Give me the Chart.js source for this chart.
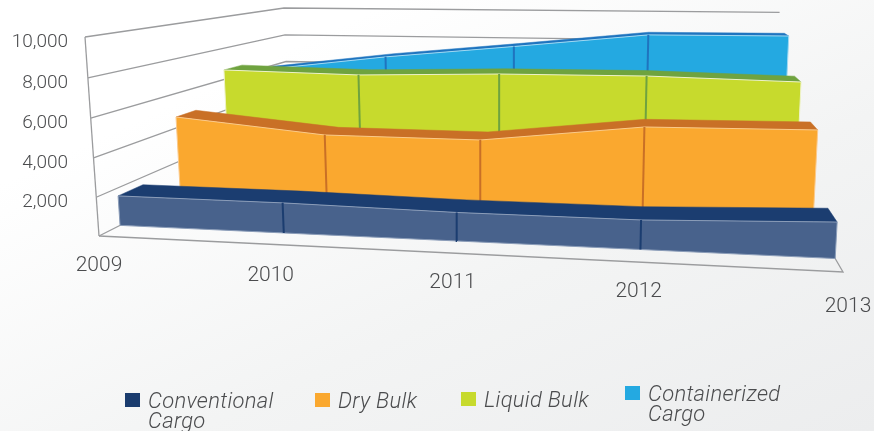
<!DOCTYPE html>
<html><head><meta charset="utf-8">
<script src="https://cdn.jsdelivr.net/npm/chart.js@4"></script>
<style>
html,body{margin:0;padding:0;width:874px;height:431px;overflow:hidden;background:linear-gradient(155deg,#ffffff 0%,#ffffff 22%,#f3f4f4 62%,#ecedee 100%);}
canvas{display:block}
</style></head><body>
<canvas id="c" width="874" height="431"></canvas>
<script>
const years = ['2009','2010','2011','2012','2013'];
const yTicks = [2000,4000,6000,8000,10000];
const yMax = 10000;
const conventionalCargo = [1580,1570,1450,1460,1750];
const dryBulk = [4640,3840,3820,4800,4890];
const liquidBulk = [6610,6460,6690,6740,6560];
const containerizedCargo = [5900,6950,7800,8700,8740];

const seriesNames = [['Conventional','Cargo'],['Dry Bulk'],['Liquid Bulk'],['Containerized','Cargo']];
const faceColors = ['#48628c','#faa82f','#c7da2d','#24a9e1'];
const topColors = ['#1b3d70','#c97026','#6fa33f','#1f74bf'];
const edgeColors = ['#8a9cb8','#fbc98a','#eef2c8','#9fd8f2'];
const legendColors = ['#1a3c6e','#faa82f','#c7da2d','#24a9e1'];
const frontDepth = [0.076,0.331,0.587,0.83];
const backDepth = [0.173,0.4275,0.695,0.915];

// Camera calibration: floor quad and vertical vanishing point
const FL=[99,236],FR=[843,272],BR=[775,155],BL=[289,140];
const dx1=FR[0]-BR[0],dy1=FR[1]-BR[1],dx2=BL[0]-BR[0],dy2=BL[1]-BR[1];
const sx=FL[0]-FR[0]+BR[0]-BL[0],sy=FL[1]-FR[1]+BR[1]-BL[1];
const den=dx1*dy2-dx2*dy1;
const g=(sx*dy2-dx2*sy)/den,h=(dx1*sy-sx*dy1)/den;
const a=FR[0]*(1+g)-FL[0],b=BL[0]*(1+h)-FL[0];
const e=FR[1]*(1+g)-FL[1],f=BL[1]*(1+h)-FL[1];
const r=-0.03256,Vx=515,Vy=6149;
function project(u,w,value){
  const v=value/yMax;
  const d=g*u+h*w+1+r*v;
  return {x:(a*u+b*w+FL[0]+r*Vx*v)/d,y:(e*u+f*w+FL[1]+r*Vy*v)/d};
}
const uOf=i=>i/(years.length-1);

const datasets=[];
function line(points,color,width){
  datasets.push({data:points,borderColor:color,borderWidth:width,fill:false,showLine:true,pointRadius:0,tension:0});
}
function poly(points,fillColor,edge,width){
  datasets.push({data:points.concat([points[0]]),backgroundColor:fillColor,borderColor:edge,borderWidth:width,fill:'shape',showLine:true,pointRadius:0,tension:0,borderJoinStyle:'round'});
}
const GRID='#9b9c9e', wallEnd=0.997;
[0].concat(yTicks).forEach(t=>{
  line([project(0,0,t),project(0,1,t),project(wallEnd,1,t)],GRID,1.3);
});
line([project(0,0,0),project(0,0,yMax)],GRID,1.3);
line([project(0,0,0),project(1,0,0),project(1,1,0)],GRID,1.3);

[containerizedCargo,liquidBulk,dryBulk,conventionalCargo].forEach((vals,k)=>{
  const s=3-k,wf=frontDepth[s],wb=backDepth[s];
  const frontTop=vals.map((val,i)=>project(uOf(i),wf,val));
  const backTop=vals.map((val,i)=>project(uOf(i),wb,val));
  const base=vals.map((val,i)=>project(uOf(i),wf,0));
  poly(frontTop.concat(backTop.slice().reverse()),topColors[s],topColors[s],0.5);
  poly(frontTop.concat(base.slice().reverse()),faceColors[s],edgeColors[s],1);
  vals.forEach((val,i)=>{
    if(i>0&&i<vals.length-1) line([project(uOf(i),wf,0),project(uOf(i),wf,val)],topColors[s],2);
  });
});

const yearNudge=[[0,30],[2,32],[4,30],[-1,30],[5,35]];
const legendX=[125,315,461,625], legendY=[393,393,392,386];
const textPlugin={id:'texts',afterDatasetsDraw(chart){
  const ctx=chart.ctx,X=chart.scales.x,Y=chart.scales.y;
  ctx.save();
  ctx.fillStyle='#4b4c4e';
  ctx.font='300 19px Roboto';
  ctx.textBaseline='middle';ctx.textAlign='right';
  yTicks.forEach(t=>{
    const p=project(0,0,t);
    ctx.fillText(t.toLocaleString('en-US'),X.getPixelForValue(68),Y.getPixelForValue(p.y+5));
  });
  ctx.textAlign='center';ctx.font='300 21px Roboto';
  years.forEach((yr,i)=>{
    const p=project(uOf(i),0,0);
    ctx.fillText(yr,X.getPixelForValue(p.x+yearNudge[i][0]),Y.getPixelForValue(p.y+yearNudge[i][1]));
  });
  ctx.textAlign='left';ctx.font='italic 300 22px Roboto';ctx.letterSpacing='0.3px';
  seriesNames.forEach((lines,i)=>{
    ctx.fillStyle=legendColors[i];
    ctx.fillRect(legendX[i],legendY[i],15,14);
    ctx.fillStyle='#4b4c4e';
    lines.forEach((txt,j)=>ctx.fillText(txt,legendX[i]+23,legendY[i]+9+j*20));
  });
  ctx.restore();
}};
new Chart(document.getElementById('c'),{
  type:'scatter',
  data:{datasets:datasets.reverse()},
  plugins:[textPlugin],
  options:{
    responsive:false,animation:false,
    layout:{padding:0},
    plugins:{legend:{display:false},tooltip:{enabled:false}},
    scales:{
      x:{type:'linear',display:false,min:0,max:874},
      y:{type:'linear',display:false,min:0,max:431,reverse:true}
    }
  }
});
</script>
</body></html>
